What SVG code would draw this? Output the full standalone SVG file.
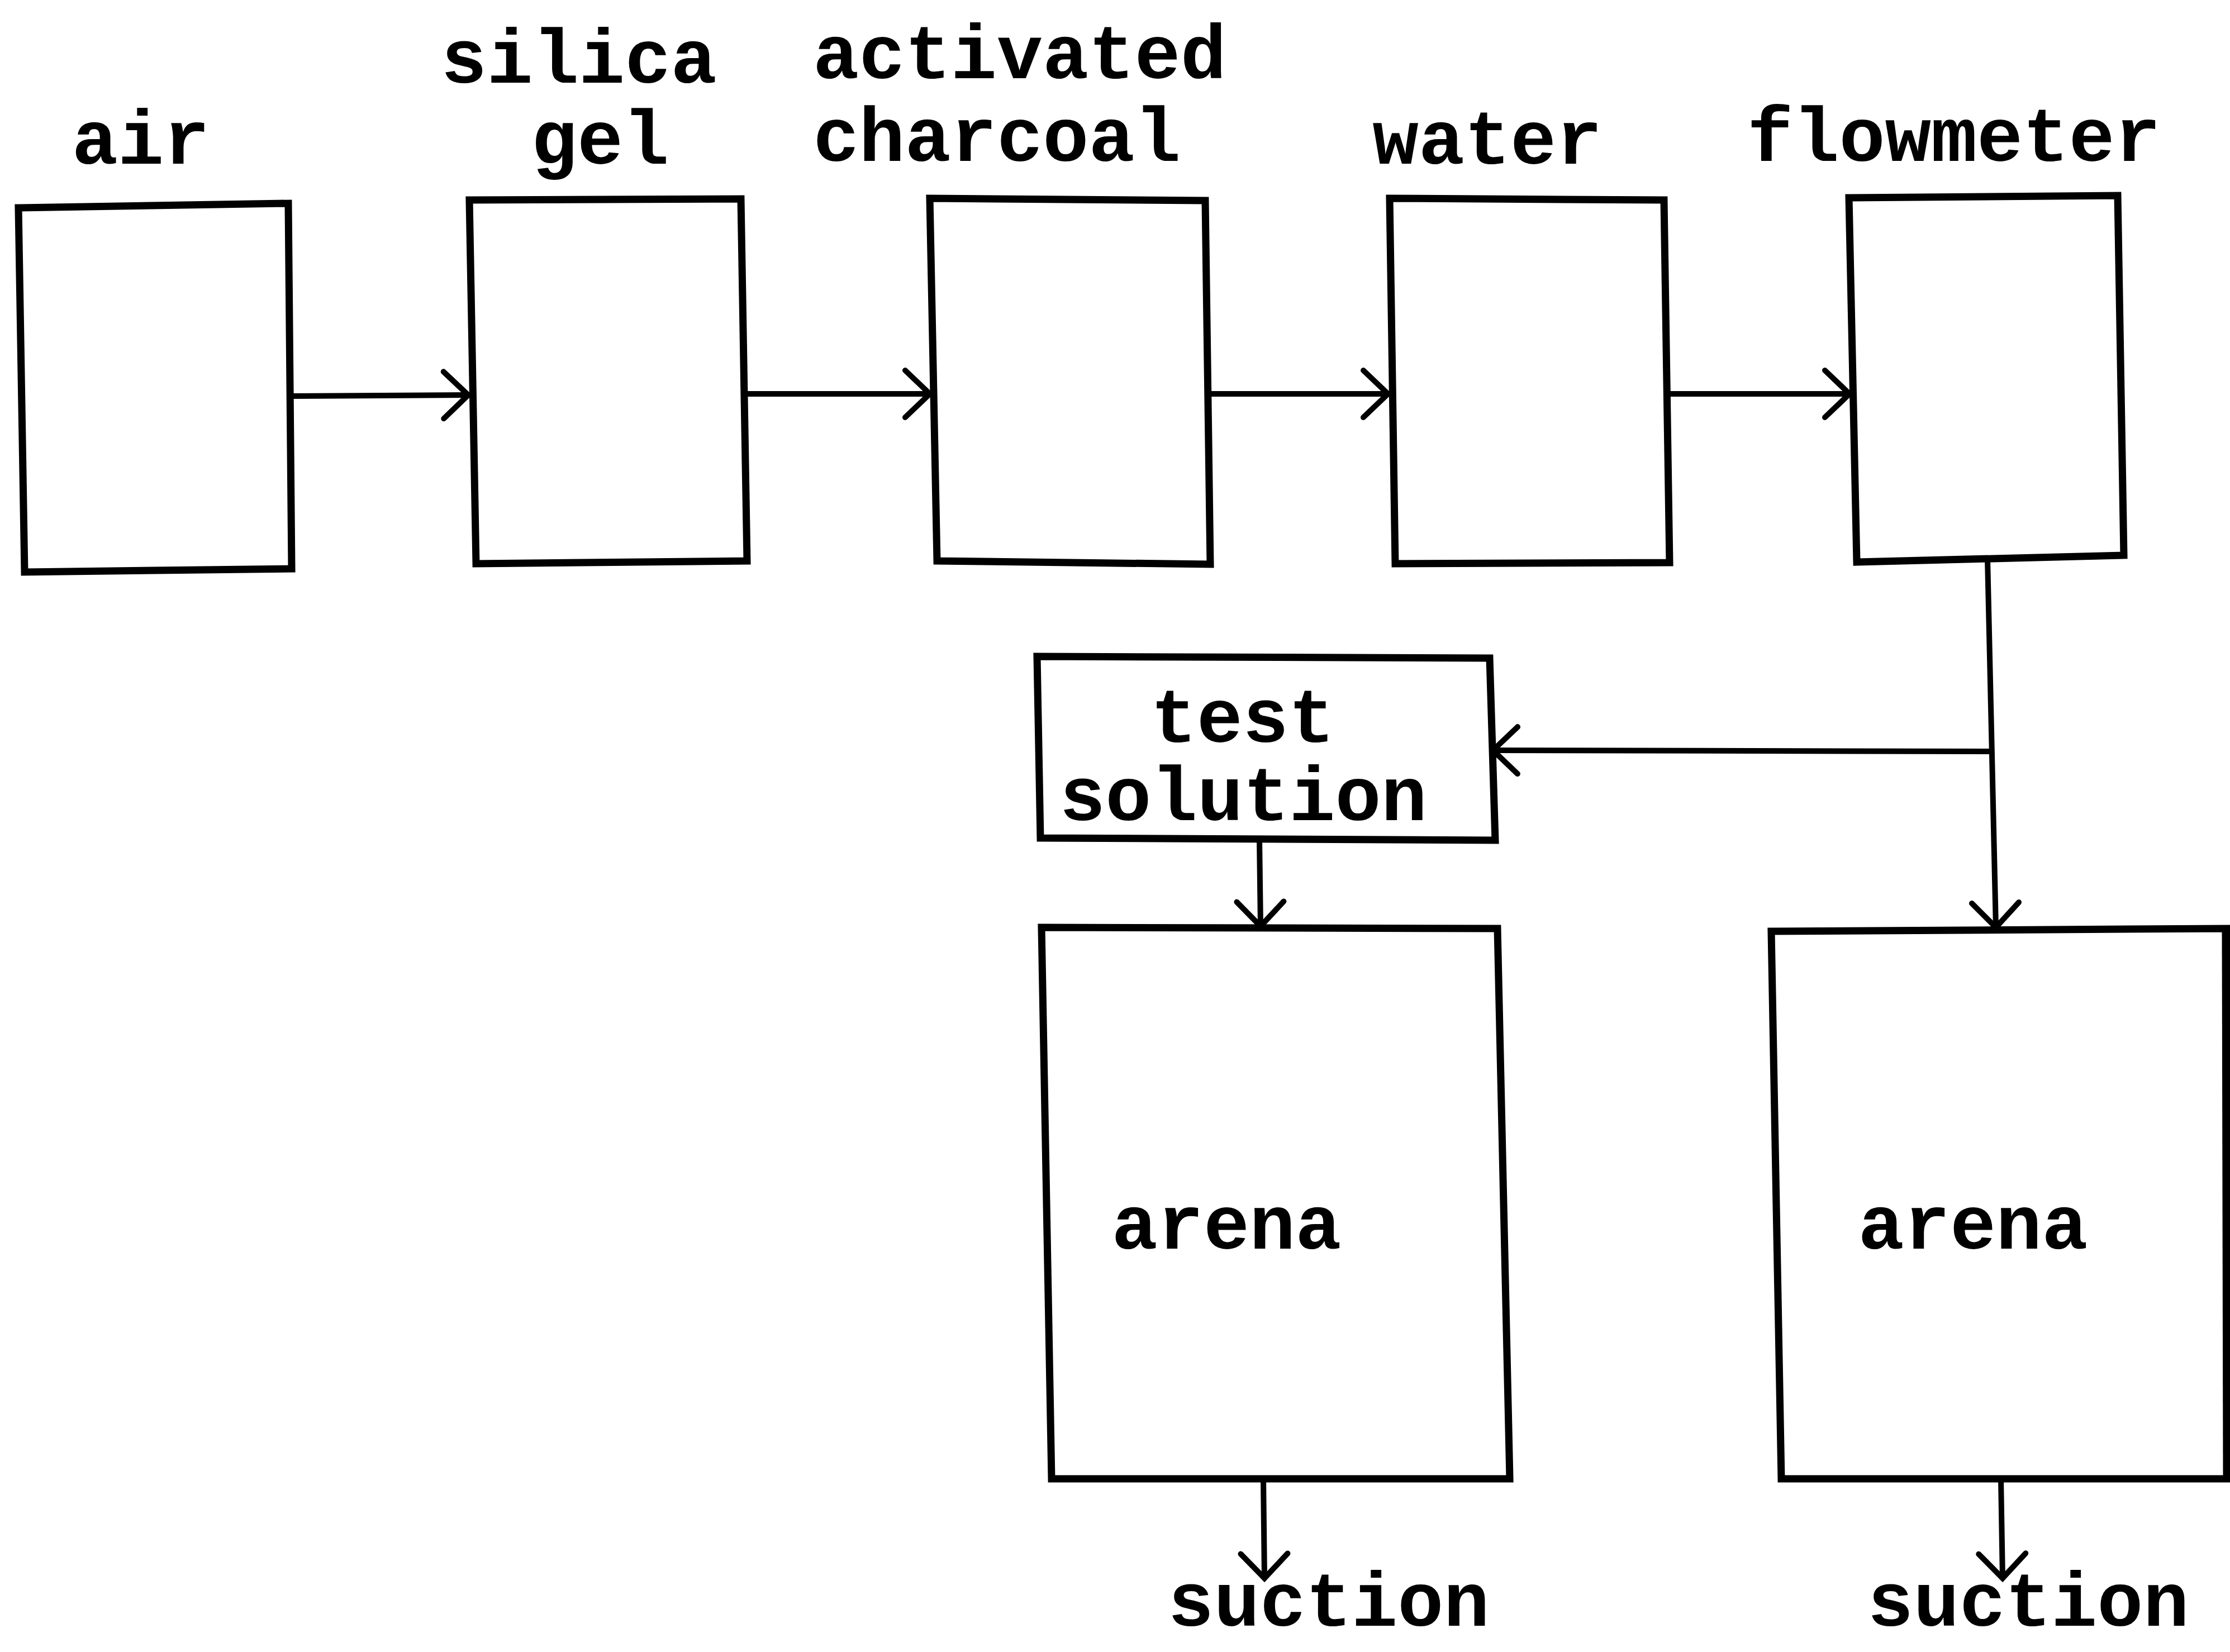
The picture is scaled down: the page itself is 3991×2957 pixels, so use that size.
<svg xmlns="http://www.w3.org/2000/svg" width="3991" height="2957" viewBox="0 0 3991 2957">
<style>
.box{fill:none;stroke:#000;stroke-width:13;stroke-linejoin:miter}
.con{fill:none;stroke:#000;stroke-width:10}
.lbl{font-family:"Liberation Mono","Courier New",monospace;font-size:137px;font-weight:bold;fill:#000;text-anchor:middle}
</style>
<defs>
<marker id="arr" markerUnits="userSpaceOnUse" markerWidth="120" markerHeight="120" viewBox="-60 -60 120 120" refX="0" refY="0" orient="auto">
<path d="M-44,-42 L0,0 L-44,42" fill="none" stroke="#000" stroke-width="10" stroke-linecap="round"/>
</marker>
</defs>
<rect width="3991" height="2957" fill="#fff"/>
<g id="air">
<polygon class="box" points="33,372 516,364 522,1018 44,1024"/>
<text class="lbl" x="252" y="293">air</text>
</g>
<g id="silica-gel">
<polygon class="box" points="840,358 1326,356 1337,1004 852,1009"/>
<text class="lbl" x="1036" y="148">silica</text>
<text class="lbl" x="1074" y="293">gel</text>
</g>
<g id="activated-charcoal">
<polygon class="box" points="1664,355 2157,359 2166,1010 1677,1004"/>
<text class="lbl" x="1825" y="140">activated</text>
<text class="lbl" x="1784" y="288">charcoal</text>
</g>
<g id="water">
<polygon class="box" points="2487,355 2978,358 2988,1007 2497,1009"/>
<text class="lbl" x="2662" y="293">water</text>
</g>
<g id="flowmeter">
<polygon class="box" points="3309,354 3790,350 3801,994 3323,1006"/>
<text class="lbl" x="3497" y="288">flowmeter</text>
</g>
<g id="test-solution">
<polygon class="box" points="1856,1175 2666,1178 2676,1504 1862,1500"/>
<text class="lbl" x="2224" y="1328">test</text>
<text class="lbl" x="2225" y="1468">solution</text>
</g>
<g id="arena-left">
<polygon class="box" points="1864,1660 2680,1662 2702,2647 1882,2647"/>
<text class="lbl" x="2195" y="2235">arena</text>
</g>
<g id="arena-right">
<polygon class="box" points="3170,1667 3991,1662 3991,2647 3188,2647"/>
<path class="box" d="M3983,1662 L3985,2647"/>
<text class="lbl" x="3531" y="2235">arena</text>
</g>
<g id="suction-left">
<text class="lbl" x="2378" y="2910">suction</text>
</g>
<g id="suction-right">
<text class="lbl" x="3630" y="2910">suction</text>
</g>
<g id="connectors">
<line class="con" x1="522" y1="709" x2="838" y2="707" marker-end="url(#arr)"/>
<line class="con" x1="1336" y1="705" x2="1664" y2="705" marker-end="url(#arr)"/>
<line class="con" x1="2163" y1="705" x2="2484" y2="705" marker-end="url(#arr)"/>
<line class="con" x1="2985" y1="705" x2="3310" y2="705" marker-end="url(#arr)"/>
<line class="con" x1="3557" y1="1000" x2="3572" y2="1660" marker-end="url(#arr)"/>
<line class="con" x1="3562" y1="1345" x2="2672" y2="1343" marker-end="url(#arr)"/>
<line class="con" x1="2254" y1="1504" x2="2256" y2="1658" marker-end="url(#arr)"/>
<line class="con" x1="2261" y1="2647" x2="2263" y2="2825" marker-end="url(#arr)"/>
<line class="con" x1="3581" y1="2647" x2="3584" y2="2825" marker-end="url(#arr)"/>
</g>
</svg>
